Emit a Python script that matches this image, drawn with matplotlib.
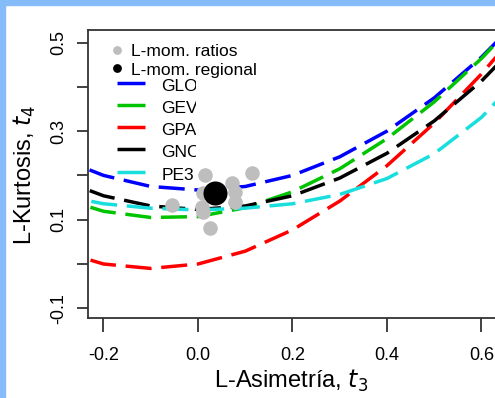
import matplotlib.pyplot as plt
from matplotlib.patches import Rectangle
from matplotlib.transforms import Bbox

## L-moment ratio curves at t3 = -0.3 .. 0.7
t3 = [-0.3, -0.2, -0.1, 0.0, 0.1, 0.2, 0.3, 0.4, 0.5, 0.6, 0.7]
glo = [0.242, 0.200, 0.175, 0.167, 0.175, 0.200, 0.242, 0.300, 0.375, 0.467, 0.575]
gev = [0.152, 0.119, 0.105, 0.107, 0.127, 0.163, 0.215, 0.283, 0.366, 0.464, 0.576]
gpa = [0.032, 0.000, -0.010, 0.000, 0.029, 0.077, 0.142, 0.222, 0.318, 0.429, 0.553]
gno = [0.194, 0.154, 0.131, 0.123, 0.131, 0.154, 0.194, 0.250, 0.323, 0.413, 0.523]
pe3 = [0.157, 0.136, 0.126, 0.122, 0.126, 0.136, 0.157, 0.193, 0.249, 0.331, 0.444]

## site L-moment ratios and regional average
site_t3 = [-0.056, 0.015, 0.011, 0.008, 0.010, 0.071, 0.078, 0.078, 0.114, 0.025]
site_t4 = [0.133, 0.201, 0.160, 0.129, 0.118, 0.182, 0.163, 0.141, 0.205, 0.081]
reg_t3 = [0.036]
reg_t4 = [0.160]

names = ['GLO', 'GEV', 'GPA', 'GNO', 'PE3']
colors = ['#0000ff', '#00c400', '#ff0000', '#000000', '#18dede']

W, H = 495, 398
fig = plt.figure(figsize=(W / 100, H / 100), dpi=100)
plt.rcParams['font.family'] = ['Liberation Sans', 'DejaVu Sans']

## blue frame strips on the left and top
blue = '#84bbf8'
fig.patches.append(Rectangle((0, 0), 5 / W, 1, transform=fig.transFigure, color=blue, zorder=-1))
fig.patches.append(Rectangle((0, 1 - 5 / H), 1, 5 / H, transform=fig.transFigure, color=blue, zorder=-1))

## axes box: left x=88, top y=30, bottom y=318, right edge off the canvas
x0, x1 = 88, 520
y0, y1 = 30, 318
ax = fig.add_axes([x0 / W, 1 - y1 / H, (x1 - x0) / W, (y1 - y0) / H])
ax.set_xlim((x0 - 198) / 472.5, (x1 - 198) / 472.5)
ax.set_ylim((264 - y1) / 443, (264 - y0) / 443)

curves = [glo, gev, gpa, gno, pe3]
for vals, c in zip(curves, colors):
    ax.plot(t3, vals, color=c, lw=2.5, linestyle=(0, (7.5, 2.8)), solid_capstyle='butt')

ax.scatter(site_t3, site_t4, s=110, color='#bebebe', zorder=3, linewidths=0)
ax.scatter(reg_t3, reg_t4, s=300, color='black', zorder=4, linewidths=0)

## axis styling
for sp in ax.spines.values():
    sp.set_linewidth(1.3)
    sp.set_color('#333333')
ax.set_xticks([-0.2, 0.0, 0.2, 0.4, 0.6])
ax.set_xticklabels(['-0.2', '0.0', '0.2', '0.4', '0.6'])
ax.set_yticks([-0.1, 0.0, 0.1, 0.2, 0.3, 0.4, 0.5])
ax.set_yticklabels(['-0.1', '', '0.1', '', '0.3', '', '0.5'], rotation=90, va='center')
ax.tick_params(axis='x', length=10, width=1.3, pad=11, labelsize=13, color='#333333')
ax.tick_params(axis='y', length=8, width=1.3, pad=7, labelsize=13, color='#333333')

fig.text(291 / W, 1 - 381 / H, r'L-Asimetría, $\it{t}_{3}$', fontsize=17, ha='center', va='center')
fig.text(25 / W, 1 - 175 / H, r'L-Kurtosis, $\it{t}_{4}$', fontsize=17, ha='center', va='center', rotation=90)

## legend drawn by hand (pixel positions)
def px(x, y):
    return ((x - 198) / 472.5, (264 - y) / 443)

ax.scatter(*px(116.7, 49.5), s=40, color='#bebebe', linewidths=0, zorder=5)
ax.scatter(*px(116.7, 67.5), s=40, color='black', linewidths=0, zorder=5)
ax.text(*px(131, 52), 'L-mom. ratios', fontsize=12.5, va='center', ha='left')
ax.text(*px(131, 70), 'L-mom. regional', fontsize=12.5, va='center', ha='left')

## the right end of the distribution names is cut off in the original
clip = Bbox.from_extents(150, H - 200, 196, H - 70)
rows_y = [83, 105, 127, 149, 171.5]
for name, c, yy in zip(names, colors, rows_y):
    xa, ya = px(116.7, yy)
    xb, _ = px(145, yy)
    ax.plot([xa, xb], [ya, ya], color=c, lw=2.5, solid_capstyle='butt')
    t = ax.text(*px(161.5, yy + 3.5), name, fontsize=12.5, va='center', ha='left')
    t.set_clip_box(clip)
    t.set_clip_on(True)

fig.savefig('out.png', dpi=100, facecolor='white')
